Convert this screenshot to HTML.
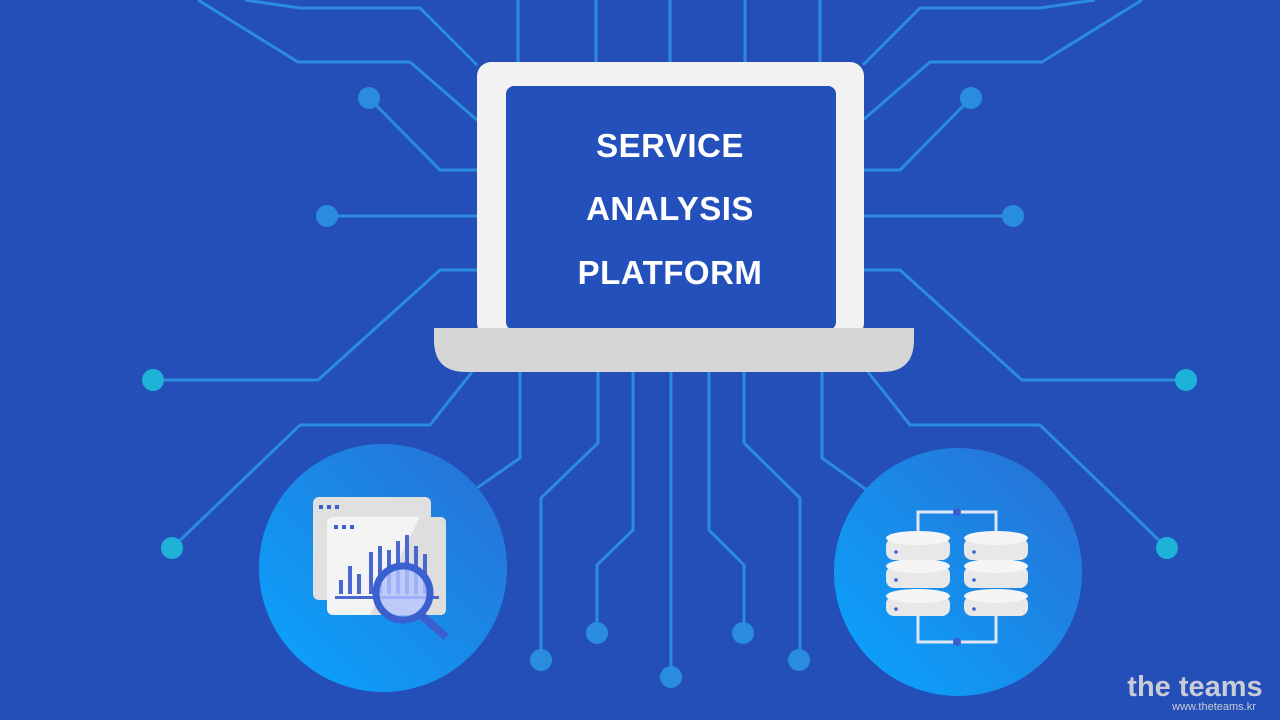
<!DOCTYPE html>
<html><head><meta charset="utf-8"><style>
html,body{margin:0;padding:0;background:#244fb8;}
svg{display:block}
</style></head><body>
<svg width="1280" height="720" viewBox="0 0 1280 720" xmlns="http://www.w3.org/2000/svg">
<defs>
<linearGradient id="cg" x1="0" y1="1" x2="1" y2="0">
<stop offset="0" stop-color="#08a6ff"/><stop offset="1" stop-color="#2a6ed2"/>
</linearGradient>
</defs>
<rect width="1280" height="720" fill="#244fb8"/>
<g fill="none" stroke="#2a8cdc" stroke-width="3">
<path d="M518 0V62M596 0V62M670 0V62M745 0V62M820 0V62"/>
<path d="M245 0L300 8H420L477 65"/>
<path d="M198 0L298 62H410L477 120"/>
<path d="M369 98L440 170H477"/>
<path d="M327 216H477"/>
<path d="M477 270H440L318 380H153"/>
<path d="M472 372L430 425H300L172 548"/>
<path d="M1095 0L1040 8H920L863 65"/>
<path d="M1142 0L1042 62H930L863 120"/>
<path d="M971 98L900 170H863"/>
<path d="M1013 216H863"/>
<path d="M863 270H900L1022 380H1186"/>
<path d="M868 372L910 425H1040L1167 548"/>
<path d="M520 372V458L438 515"/>
<path d="M598 372V443L541 498V660"/>
<path d="M633 372V530L597 565V633"/>
<path d="M671 372V677"/>
<path d="M709 372V530L744 565V633"/>
<path d="M744 372V443L800 498V660"/>
<path d="M822 372V458L902 515"/>
</g>
<g fill="#2a8cdc">
<circle cx="369" cy="98" r="11"/><circle cx="327" cy="216" r="11"/>
<circle cx="971" cy="98" r="11"/><circle cx="1013" cy="216" r="11"/>
<circle cx="541" cy="660" r="11"/><circle cx="597" cy="633" r="11"/><circle cx="671" cy="677" r="11"/>
<circle cx="743" cy="633" r="11"/><circle cx="799" cy="660" r="11"/>
</g>
<g fill="#1fb2d8">
<circle cx="153" cy="380" r="11"/><circle cx="172" cy="548" r="11"/>
<circle cx="1186" cy="380" r="11"/><circle cx="1167" cy="548" r="11"/>
</g>
<rect x="477" y="62" width="387" height="275" rx="14" fill="#f2f2f2"/>
<rect x="506" y="86" width="330" height="244" rx="8" fill="#2350bb"/>
<path d="M434 328H914V340Q914 372 882 372H466Q434 372 434 340Z" fill="#d6d6d6"/>
<g fill="#fff" font-family="Liberation Sans, sans-serif" font-weight="bold" font-size="33" text-anchor="middle" letter-spacing="0.5">
<text x="670" y="157">SERVICE</text>
<text x="670" y="220">ANALYSIS</text>
<text x="670" y="284">PLATFORM</text>
</g>
<circle cx="383" cy="568" r="124" fill="url(#cg)"/>
<circle cx="958" cy="572" r="124" fill="url(#cg)"/>
<rect x="313" y="497" width="118" height="103" rx="6" fill="#e0e0e0"/>
<g fill="#3a5fcf"><rect x="319" y="505" width="4" height="4"/><rect x="327" y="505" width="4" height="4"/><rect x="335" y="505" width="4" height="4"/></g>
<rect x="327" y="517" width="119" height="98" rx="6" fill="#f3f3f3"/>
<path d="M420 517H440Q446 517 446 523V609Q446 615 440 615H370Z" fill="#dedede"/>
<g fill="#3a5fcf"><rect x="334" y="525" width="4" height="4"/><rect x="342" y="525" width="4" height="4"/><rect x="350" y="525" width="4" height="4"/></g>
<g fill="#4a66d0">
<rect x="339" y="580" width="4" height="14"/><rect x="348" y="566" width="4" height="28"/><rect x="357" y="574" width="4" height="20"/>
<rect x="369" y="552" width="4" height="42"/><rect x="378" y="546" width="4" height="48"/><rect x="387" y="550" width="4" height="44"/>
<rect x="396" y="541" width="4" height="53"/><rect x="405" y="535" width="4" height="59"/><rect x="414" y="546" width="4" height="48"/><rect x="423" y="554" width="4" height="40"/>
<rect x="335" y="596" width="104" height="3"/>
</g>
<line x1="420" y1="614" x2="446" y2="637" stroke="#3a5fcf" stroke-width="8"/>
<circle cx="403" cy="593" r="27" fill="#b4c4ff" fill-opacity="0.8" stroke="#3a60d0" stroke-width="7"/>
<g fill="none" stroke="#dfe6f5" stroke-width="3"><path d="M918 540V512H996V540M918 600V642H996V600"/></g>
<circle cx="957" cy="512" r="4" fill="#3a5fcf"/><circle cx="957" cy="642" r="4" fill="#3a5fcf"/>
<g id="db">
<rect x="886" y="596" width="64" height="20" rx="8" fill="#e8e8e8"/><ellipse cx="918" cy="596" rx="32" ry="7" fill="#f5f5f5"/>
<rect x="886" y="566" width="64" height="22" rx="8" fill="#e8e8e8"/><ellipse cx="918" cy="566" rx="32" ry="7" fill="#f5f5f5"/>
<rect x="886" y="538" width="64" height="22" rx="8" fill="#e8e8e8"/><ellipse cx="918" cy="538" rx="32" ry="7" fill="#f5f5f5"/>
<g fill="#3a5fcf"><circle cx="896" cy="552" r="1.8"/><circle cx="896" cy="580" r="1.8"/><circle cx="896" cy="609" r="1.8"/></g>
</g>
<use href="#db" x="78"/>
<text x="1195" y="696" text-anchor="middle" font-family="Liberation Sans, sans-serif" font-weight="bold" font-size="29" fill="#c9ccd6">the teams</text>
<text x="1214" y="710" text-anchor="middle" font-family="Liberation Sans, sans-serif" font-size="11" fill="#c9ccd6">www.theteams.kr</text>
</svg>
</body></html>
